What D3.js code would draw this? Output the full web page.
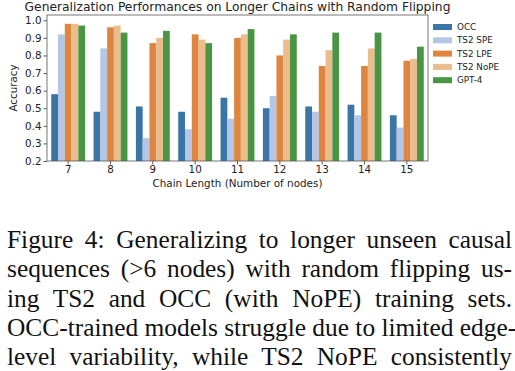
<!DOCTYPE html>
<html>
<head>
<meta charset="utf-8">
<script src="https://cdn.jsdelivr.net/npm/d3@7"></script>
<style>
  body { margin: 0; background: #fff; width: 515px; height: 371px; overflow: hidden; }
  #chart { position: absolute; left: 0; top: 0; }
  #caption { position: absolute; left: 7px; top: 225px; width: 505px;
    font-family: "Liberation Serif", "Times New Roman", serif; font-size: 25.4px; color: #111; }
  #caption div { text-align: justify; text-align-last: justify; line-height: 29.3px; height: 29.3px; white-space: nowrap; }
</style>
</head>
<body>
<div id="chart"></div>
<div id="caption"></div>
<script>
var chains = ["7", "8", "9", "10", "11", "12", "13", "14", "15"];
var seriesNames = ["OCC", "TS2 SPE", "TS2 LPE", "TS2 NoPE", "GPT-4"];
var occ  = [0.58, 0.48, 0.51, 0.48, 0.56, 0.50, 0.51, 0.52, 0.46];
var spe  = [0.92, 0.84, 0.33, 0.38, 0.44, 0.57, 0.48, 0.46, 0.39];
var lpe  = [0.98, 0.96, 0.87, 0.92, 0.90, 0.80, 0.74, 0.74, 0.77];
var nope = [0.98, 0.97, 0.90, 0.89, 0.92, 0.89, 0.83, 0.84, 0.78];
var gpt4 = [0.97, 0.93, 0.94, 0.87, 0.95, 0.92, 0.93, 0.93, 0.85];
var yTicks = [0.2, 0.3, 0.4, 0.5, 0.6, 0.7, 0.8, 0.9, 1.0];
var captionLines = [
  "Figure 4: Generalizing to longer unseen causal",
  "sequences (>6 nodes) with random flipping us-",
  "ing TS2 and OCC (with NoPE) training sets.",
  "OCC-trained models struggle due to limited edge-",
  "level variability, while TS2 NoPE consistently"
];

var colors = ["#3a75a5", "#b3c6e6", "#de8540", "#ebbd8d", "#4a9544"];
var allSeries = [occ, spe, lpe, nope, gpt4];

var margin = { top: 15, right: 87, bottom: 210, left: 47 };
var width = 515 - margin.left - margin.right;
var height = 371 - margin.top - margin.bottom;

var svg = d3.select("#chart")
  .append("svg")
    .attr("width", 515)
    .attr("height", 371)
  .append("g")
    .attr("transform", "translate(" + margin.left + "," + margin.top + ")");

var x = d3.scaleBand()
    .domain(chains)
    .range([0, width])
    .paddingInner(0.2)
    .paddingOuter(0.1);

var xs = d3.scaleBand()
    .domain(seriesNames)
    .range([0, x.bandwidth()]);

var y = d3.scaleLinear()
    .domain([0.2, 1.03])
    .range([height, 0]);

var font = "'DejaVu Sans', sans-serif";

chains.forEach(function(c, i) {
    svg.append("g")
        .attr("transform", "translate(" + x(c) + ",0)")
      .selectAll("rect")
      .data(seriesNames)
      .enter()
      .append("rect")
        .attr("x", function(s) { return xs(s); })
        .attr("width", xs.bandwidth())
        .attr("y", function(s, j) { return y(allSeries[j][i]); })
        .attr("height", function(s, j) { return height - y(allSeries[j][i]); })
        .style("fill", function(s, j) { return colors[j]; });
});

var yAxis = svg.append("g")
    .call(d3.axisLeft(y).tickValues(yTicks).tickFormat(d3.format(".1f")).tickSize(3.5).tickPadding(2));
var xAxis = svg.append("g")
    .attr("transform", "translate(0," + height + ")")
    .call(d3.axisBottom(x).tickSize(3.5).tickPadding(1));

[xAxis, yAxis].forEach(function(a) {
    a.select(".domain").remove();
    a.selectAll("line").attr("stroke", "#333").attr("stroke-width", 0.8);
    a.selectAll("text").attr("font-family", font).attr("font-size", 10.3).attr("fill", "#222");
});

svg.append("rect")
    .attr("width", width)
    .attr("height", height)
    .attr("fill", "none")
    .attr("stroke", "#555")
    .attr("stroke-width", 0.8);

svg.append("text")
    .attr("x", width / 2)
    .attr("y", -4)
    .attr("text-anchor", "middle")
    .attr("font-family", font)
    .attr("font-size", 12.3)
    .attr("fill", "#222")
    .text("Generalization Performances on Longer Chains with Random Flipping");

svg.append("text")
    .attr("x", width / 2)
    .attr("y", height + 26)
    .attr("text-anchor", "middle")
    .attr("font-family", font)
    .attr("font-size", 10.4)
    .attr("fill", "#222")
    .text("Chain Length (Number of nodes)");

svg.append("text")
    .attr("transform", "translate(-30," + (height / 2) + ") rotate(-90)")
    .attr("text-anchor", "middle")
    .attr("font-family", font)
    .attr("font-size", 10.3)
    .attr("fill", "#222")
    .text("Accuracy");

var legend = svg.append("g")
    .attr("transform", "translate(" + (width + 5) + ",12)");

var items = legend.selectAll("g")
    .data(seriesNames)
    .enter()
    .append("g")
      .attr("transform", function(d, i) { return "translate(0," + (i * 13.3) + ")"; });

items.append("rect")
    .attr("width", 19)
    .attr("height", 6)
    .attr("y", -3)
    .style("fill", function(d, i) { return colors[i]; });

items.append("text")
    .attr("x", 24)
    .attr("y", 3)
    .attr("font-family", font)
    .attr("font-size", 8.8)
    .attr("fill", "#222")
    .text(function(d) { return d; });

d3.select("#caption")
  .selectAll("div")
  .data(captionLines)
  .enter()
  .append("div")
    .text(function(d) { return d; });
</script>
</body>
</html>
